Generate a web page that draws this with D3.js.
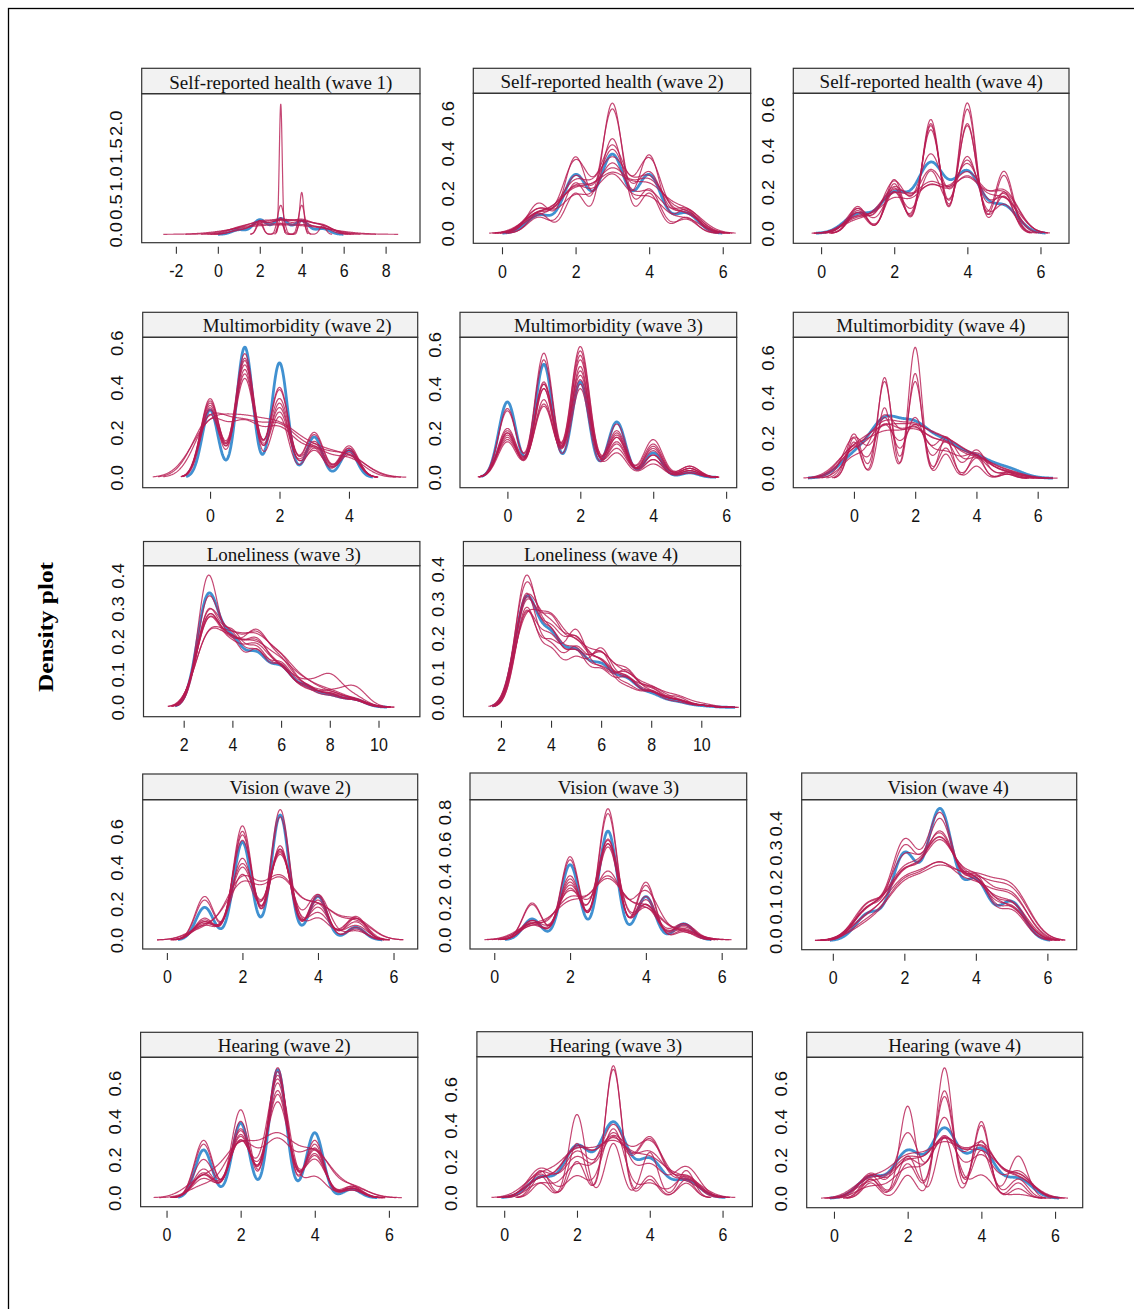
<!DOCTYPE html>
<html><head><meta charset="utf-8">
<script src="https://cdn.jsdelivr.net/npm/d3@7"></script>
<style>body{margin:0;background:#fff}svg{display:block}</style>
</head><body>
<script>
// ---------------- DATA ----------------
const titles = [
  "Self-reported health (wave 1)", "Self-reported health (wave 2)", "Self-reported health (wave 4)",
  "Multimorbidity (wave 2)", "Multimorbidity (wave 3)", "Multimorbidity (wave 4)",
  "Loneliness (wave 3)", "Loneliness (wave 4)",
  "Vision (wave 2)", "Vision (wave 3)", "Vision (wave 4)",
  "Hearing (wave 2)", "Hearing (wave 3)", "Hearing (wave 4)"
];
const yAxisTitle = "Density plot";
// first value of the support (consecutive integer scores)
const supportStart = [1, 1, 1, 0, 0, 0, 3, 3, 1, 1, 1, 1, 1, 1];
const xTickValues = [
  [-2, 0, 2, 4, 6, 8], [0, 2, 4, 6], [0, 2, 4, 6],
  [0, 2, 4], [0, 2, 4, 6], [0, 2, 4, 6],
  [2, 4, 6, 8, 10], [2, 4, 6, 8, 10],
  [0, 2, 4, 6], [0, 2, 4, 6], [0, 2, 4, 6],
  [0, 2, 4, 6], [0, 2, 4, 6], [0, 2, 4, 6]
];
const yTickValues = [
  [0, 0.5, 1, 1.5, 2], [0, 0.2, 0.4, 0.6], [0, 0.2, 0.4, 0.6],
  [0, 0.2, 0.4, 0.6], [0, 0.2, 0.4, 0.6], [0, 0.2, 0.4, 0.6],
  [0, 0.1, 0.2, 0.3, 0.4], [0, 0.1, 0.2, 0.3, 0.4],
  [0, 0.2, 0.4, 0.6], [0, 0.2, 0.4, 0.6, 0.8], [0, 0.1, 0.2, 0.3, 0.4],
  [0, 0.2, 0.4, 0.6], [0, 0.2, 0.4, 0.6], [0, 0.2, 0.4, 0.6]
];
// Each row: [kernel bandwidth, density peak at each support score ...]
// Row 0 = observed data (blue), other rows = imputed data sets (red)
const srhW1 = [
  [0.33, 0.08, 0.26, 0.28, 0.24, 0.10],
  [1.20, 0.05, 0.06, 0.06, 0.06, 0.05],
  [0.85, 0.07, 0.09, 0.09, 0.09, 0.07],
  [0.07, 0, 0, 2.33, 0, 0],
  [0.15, 0, 0.25, 0.52, 0.25, 0],
  [0.10, 0, 0, 0.30, 0.75, 0],
  [0.15, 0, 0.20, 0.20, 0.52, 0.15],
  [0.40, 0.08, 0.22, 0.25, 0.22, 0.12],
  [0.50, 0.10, 0.20, 0.22, 0.20, 0.14],
  [0.45, 0.06, 0.18, 0.22, 0.24, 0.16],
  [0.60, 0.10, 0.15, 0.18, 0.17, 0.12]
];
const srhW2 = [
  [0.33, 0.09, 0.29, 0.39, 0.29, 0.10],
  [0.28, 0.10, 0.20, 0.65, 0.20, 0.08],
  [0.30, 0.08, 0.25, 0.62, 0.22, 0.07],
  [0.30, 0.15, 0.38, 0.47, 0.39, 0.12],
  [0.35, 0.10, 0.36, 0.43, 0.37, 0.10],
  [0.35, 0.12, 0.28, 0.41, 0.30, 0.11],
  [0.40, 0.10, 0.25, 0.36, 0.27, 0.09],
  [0.42, 0.08, 0.22, 0.30, 0.25, 0.10],
  [0.45, 0.09, 0.20, 0.27, 0.22, 0.11],
  [0.38, 0.12, 0.18, 0.34, 0.20, 0.12],
  [0.40, 0.10, 0.22, 0.28, 0.17, 0.07]
];
const srhW4 = [
  [0.38, 0.09, 0.19, 0.33, 0.29, 0.13],
  [0.24, 0.12, 0.26, 0.55, 0.63, 0.20],
  [0.24, 0.13, 0.24, 0.53, 0.60, 0.28],
  [0.25, 0.10, 0.22, 0.52, 0.53, 0.30],
  [0.26, 0.11, 0.20, 0.50, 0.52, 0.18],
  [0.32, 0.10, 0.25, 0.38, 0.35, 0.19],
  [0.35, 0.08, 0.22, 0.30, 0.33, 0.17],
  [0.40, 0.07, 0.20, 0.23, 0.28, 0.19],
  [0.42, 0.06, 0.18, 0.21, 0.25, 0.16],
  [0.40, 0.08, 0.16, 0.22, 0.26, 0.20],
  [0.30, 0.12, 0.20, 0.30, 0.37, 0.14]
];
const mmW2 = [
  [0.23, 0.30, 0.58, 0.51, 0.18, 0.12],
  [0.27, 0.35, 0.55, 0.40, 0.20, 0.14],
  [0.27, 0.34, 0.53, 0.39, 0.19, 0.13],
  [0.28, 0.33, 0.50, 0.35, 0.16, 0.12],
  [0.27, 0.32, 0.48, 0.33, 0.14, 0.11],
  [0.28, 0.30, 0.46, 0.31, 0.12, 0.12],
  [0.28, 0.28, 0.44, 0.29, 0.15, 0.10],
  [0.26, 0.31, 0.52, 0.27, 0.13, 0.13],
  [0.50, 0.25, 0.20, 0.20, 0.10, 0.09],
  [0.45, 0.24, 0.22, 0.20, 0.11, 0.08],
  [0.55, 0.22, 0.20, 0.19, 0.10, 0.08]
];
const mmW3 = [
  [0.24, 0.34, 0.51, 0.43, 0.25, 0.11, 0.02],
  [0.25, 0.31, 0.56, 0.55, 0.20, 0.08, 0.02],
  [0.25, 0.30, 0.53, 0.50, 0.24, 0.10, 0.03],
  [0.26, 0.22, 0.43, 0.59, 0.19, 0.15, 0.04],
  [0.26, 0.21, 0.42, 0.57, 0.18, 0.17, 0.05],
  [0.26, 0.20, 0.40, 0.53, 0.16, 0.13, 0.04],
  [0.26, 0.19, 0.35, 0.48, 0.15, 0.12, 0.03],
  [0.27, 0.18, 0.33, 0.46, 0.13, 0.10, 0.05],
  [0.27, 0.17, 0.32, 0.44, 0.11, 0.06, 0.02],
  [0.26, 0.16, 0.42, 0.42, 0.21, 0.08, 0.03],
  [0.25, 0.20, 0.40, 0.40, 0.18, 0.14, 0.04]
];
const mmW4 = [
  [0.50, 0.10, 0.26, 0.23, 0.15, 0.09, 0.045],
  [0.22, 0.20, 0.35, 0.65, 0.12, 0.12, 0.03],
  [0.22, 0.18, 0.50, 0.52, 0.20, 0.06, 0.02],
  [0.24, 0.22, 0.48, 0.48, 0.15, 0.10, 0.02],
  [0.30, 0.16, 0.30, 0.30, 0.18, 0.14, 0.03],
  [0.45, 0.13, 0.24, 0.22, 0.16, 0.09, 0.03],
  [0.50, 0.12, 0.24, 0.22, 0.16, 0.09, 0.03],
  [0.55, 0.13, 0.20, 0.20, 0.15, 0.08, 0.03],
  [0.50, 0.14, 0.19, 0.20, 0.14, 0.09, 0.02],
  [0.35, 0.20, 0.26, 0.26, 0.20, 0.10, 0.02],
  [0.40, 0.10, 0.30, 0.24, 0.12, 0.12, 0.03]
];
const lonW3 = [
  [0.45, 0.33, 0.18, 0.145, 0.11, 0.055, 0.032, 0.022],
  [0.42, 0.39, 0.18, 0.16, 0.12, 0.06, 0.04, 0.02],
  [0.45, 0.32, 0.19, 0.15, 0.12, 0.06, 0.035, 0.02],
  [0.50, 0.27, 0.17, 0.19, 0.13, 0.05, 0.03, 0.02],
  [0.50, 0.26, 0.15, 0.20, 0.12, 0.05, 0.04, 0.02],
  [0.50, 0.25, 0.16, 0.17, 0.10, 0.06, 0.09, 0.03],
  [0.50, 0.25, 0.15, 0.16, 0.10, 0.04, 0.04, 0.06],
  [0.55, 0.20, 0.16, 0.17, 0.12, 0.06, 0.035, 0.02],
  [0.55, 0.20, 0.15, 0.15, 0.11, 0.06, 0.04, 0.02],
  [0.45, 0.28, 0.20, 0.16, 0.11, 0.05, 0.03, 0.02],
  [0.48, 0.26, 0.17, 0.18, 0.10, 0.05, 0.035, 0.025]
];
const lonW4 = [
  [0.45, 0.305, 0.185, 0.145, 0.11, 0.075, 0.035, 0.015, 0.004],
  [0.42, 0.37, 0.20, 0.15, 0.10, 0.08, 0.04, 0.015, 0.005],
  [0.45, 0.345, 0.19, 0.15, 0.10, 0.09, 0.05, 0.02, 0.005],
  [0.45, 0.29, 0.23, 0.17, 0.12, 0.08, 0.04, 0.02, 0.005],
  [0.42, 0.27, 0.17, 0.21, 0.10, 0.10, 0.05, 0.02, 0.005],
  [0.42, 0.28, 0.15, 0.13, 0.16, 0.08, 0.04, 0.03, 0.005],
  [0.50, 0.24, 0.22, 0.15, 0.13, 0.08, 0.05, 0.02, 0.005],
  [0.45, 0.30, 0.20, 0.18, 0.12, 0.05, 0.04, 0.02, 0.005],
  [0.45, 0.26, 0.18, 0.14, 0.14, 0.10, 0.04, 0.02, 0.005],
  [0.48, 0.30, 0.20, 0.17, 0.11, 0.07, 0.05, 0.03, 0.01],
  [0.42, 0.32, 0.16, 0.16, 0.15, 0.06, 0.045, 0.02, 0.005]
];
const visW2 = [
  [0.235, 0.18, 0.54, 0.69, 0.24, 0.07],
  [0.25, 0.24, 0.63, 0.72, 0.25, 0.06],
  [0.25, 0.22, 0.60, 0.68, 0.24, 0.07],
  [0.26, 0.12, 0.58, 0.52, 0.22, 0.12],
  [0.27, 0.11, 0.55, 0.50, 0.20, 0.13],
  [0.28, 0.10, 0.45, 0.49, 0.18, 0.10],
  [0.30, 0.09, 0.42, 0.48, 0.15, 0.08],
  [0.30, 0.08, 0.40, 0.47, 0.25, 0.05],
  [0.42, 0.06, 0.33, 0.33, 0.18, 0.10],
  [0.42, 0.07, 0.30, 0.32, 0.18, 0.11],
  [0.30, 0.10, 0.36, 0.50, 0.12, 0.12]
];
const visW3 = [
  [0.24, 0.13, 0.47, 0.68, 0.27, 0.10],
  [0.25, 0.23, 0.50, 0.82, 0.34, 0.06],
  [0.25, 0.22, 0.52, 0.79, 0.36, 0.05],
  [0.27, 0.12, 0.40, 0.63, 0.25, 0.10],
  [0.27, 0.11, 0.38, 0.60, 0.27, 0.09],
  [0.28, 0.10, 0.36, 0.58, 0.22, 0.07],
  [0.30, 0.09, 0.34, 0.60, 0.20, 0.08],
  [0.35, 0.10, 0.30, 0.42, 0.30, 0.06],
  [0.40, 0.08, 0.25, 0.38, 0.20, 0.05],
  [0.42, 0.09, 0.22, 0.36, 0.18, 0.04],
  [0.30, 0.12, 0.32, 0.62, 0.22, 0.10]
];
const visW4 = [
  [0.36, 0.09, 0.29, 0.44, 0.20, 0.13],
  [0.38, 0.12, 0.33, 0.42, 0.20, 0.10],
  [0.38, 0.11, 0.31, 0.40, 0.21, 0.11],
  [0.42, 0.10, 0.27, 0.34, 0.19, 0.12],
  [0.45, 0.10, 0.22, 0.32, 0.18, 0.10],
  [0.45, 0.08, 0.21, 0.31, 0.19, 0.15],
  [0.50, 0.07, 0.18, 0.22, 0.17, 0.16],
  [0.50, 0.05, 0.17, 0.21, 0.18, 0.17],
  [0.48, 0.06, 0.18, 0.23, 0.16, 0.14],
  [0.42, 0.12, 0.22, 0.35, 0.18, 0.11],
  [0.45, 0.10, 0.21, 0.32, 0.17, 0.12]
];
const hearW2 = [
  [0.23, 0.25, 0.39, 0.67, 0.34, 0.045],
  [0.25, 0.30, 0.40, 0.68, 0.30, 0.05],
  [0.25, 0.28, 0.46, 0.66, 0.28, 0.06],
  [0.27, 0.20, 0.36, 0.64, 0.26, 0.05],
  [0.27, 0.15, 0.35, 0.60, 0.25, 0.04],
  [0.28, 0.13, 0.33, 0.56, 0.23, 0.06],
  [0.28, 0.12, 0.32, 0.54, 0.22, 0.05],
  [0.30, 0.10, 0.30, 0.50, 0.20, 0.04],
  [0.45, 0.10, 0.26, 0.30, 0.22, 0.05],
  [0.40, 0.06, 0.28, 0.29, 0.24, 0.06],
  [0.30, 0.12, 0.30, 0.62, 0.11, 0.05]
];
const hearW3 = [
  [0.36, 0.11, 0.28, 0.41, 0.21, 0.095],
  [0.22, 0.12, 0.30, 0.73, 0.10, 0.10],
  [0.23, 0.15, 0.20, 0.71, 0.12, 0.08],
  [0.22, 0.08, 0.46, 0.30, 0.25, 0.15],
  [0.35, 0.14, 0.25, 0.35, 0.33, 0.12],
  [0.35, 0.16, 0.22, 0.33, 0.32, 0.10],
  [0.40, 0.10, 0.26, 0.32, 0.30, 0.08],
  [0.35, 0.08, 0.18, 0.40, 0.18, 0.17],
  [0.45, 0.12, 0.24, 0.28, 0.20, 0.10],
  [0.30, 0.13, 0.12, 0.38, 0.08, 0.12],
  [0.40, 0.10, 0.27, 0.31, 0.24, 0.10]
];
const hearW4 = [
  [0.37, 0.11, 0.24, 0.355, 0.25, 0.10],
  [0.22, 0.08, 0.12, 0.68, 0.38, 0.08],
  [0.22, 0.10, 0.48, 0.32, 0.40, 0.05],
  [0.25, 0.12, 0.22, 0.56, 0.25, 0.22],
  [0.25, 0.10, 0.18, 0.53, 0.30, 0.10],
  [0.30, 0.13, 0.34, 0.42, 0.12, 0.02],
  [0.40, 0.10, 0.20, 0.30, 0.26, 0.12],
  [0.42, 0.08, 0.18, 0.29, 0.25, 0.10],
  [0.38, 0.06, 0.15, 0.30, 0.28, 0.12],
  [0.35, 0.12, 0.20, 0.32, 0.22, 0.14],
  [0.45, 0.10, 0.20, 0.26, 0.22, 0.10]
];
const curveSets = [srhW1, srhW2, srhW4, mmW2, mmW3, mmW4, lonW3, lonW4,
                   visW2, visW3, visW4, hearW2, hearW3, hearW4];

// ---------------- LAYOUT (positions / scale limits) ----------------
const layout = [
  {l:141.7, r:420.0, st:68.3,  bt:93.7,  bb:242.7,  xd:[-3.63, 9.64], yd:[-0.15, 2.52],  dx:0},
  {l:473.3, r:750.7, st:68.3,  bt:93.3,  bb:243.3,  xd:[-0.78, 6.76], yd:[-0.05, 0.70],  dx:0},
  {l:793.3, r:1069,  st:68.3,  bt:93.3,  bb:243.3,  xd:[-0.76, 6.78], yd:[-0.048, 0.677],dx:0},
  {l:142.7, r:417.7, st:312.3, bt:337.3, bb:487.7,  xd:[-1.94, 5.98], yd:[-0.046, 0.624],dx:17},
  {l:460.0, r:736.7, st:312.3, bt:337.3, bb:487.7,  xd:[-1.30, 6.29], yd:[-0.047, 0.632],dx:10},
  {l:793.3, r:1068.3,st:312.3, bt:337.3, bb:487.7,  xd:[-1.98, 7.00], yd:[-0.047, 0.70], dx:0},
  {l:143.5, r:419.9, st:541.5, bt:565.7, bb:716.7,  xd:[0.35, 11.70], yd:[-0.029, 0.43], dx:2},
  {l:463.4, r:740.6, st:541.5, bt:565.7, bb:716.7,  xd:[0.50, 11.57], yd:[-0.027, 0.41], dx:-1},
  {l:142.7, r:417.7, st:774.0, bt:799.7, bb:949.0,  xd:[-0.64, 6.64], yd:[-0.05, 0.775], dx:10},
  {l:470.0, r:746.7, st:773.0, bt:799.7, bb:949.0,  xd:[-0.64, 6.66], yd:[-0.058, 0.877],dx:10},
  {l:801.7, r:1076.7,st:773.0, bt:799.7, bb:949.7,  xd:[-0.87, 6.82], yd:[-0.031, 0.48], dx:9},
  {l:140.6, r:417.8, st:1032.3,bt:1057.3,bb:1206.7, xd:[-0.70, 6.78], yd:[-0.047, 0.735],dx:5},
  {l:476.9, r:752.4, st:1031.7,bt:1056.7,bb:1206.7, xd:[-0.75, 6.82], yd:[-0.05, 0.78],  dx:1},
  {l:806.7, r:1082.7,st:1032.3,bt:1057.3,bb:1207.7, xd:[-0.74, 6.75], yd:[-0.049, 0.735],dx:10}
];

const BLUE = "#006CC2", RED = "#B61A51";
const SANS = "'Liberation Sans', Arial, sans-serif";
const SERIF = "'Liberation Serif', 'Times New Roman', serif";

// kernel-smoothed curve through the read peak values
function curvePoints(row, start) {
  const h = row[0], amps = row.slice(1);
  const nz = amps.map((a, i) => a > 0 ? i : -1).filter(i => i >= 0);
  const lo = start + nz[0] - 3 * h, hi = start + nz[nz.length - 1] + 3 * h;
  const n = 500, pts = [];
  for (let j = 0; j <= n; j++) {
    const x = lo + (hi - lo) * j / n;
    let y = 0;
    amps.forEach((a, i) => { const d = x - (start + i); y += a * Math.exp(-d * d / (2 * h * h)); });
    pts.push([x, y]);
  }
  return pts;
}

const svg = d3.select("body").append("svg").attr("width", 1134).attr("height", 1309);
svg.append("rect").attr("width", 1134).attr("height", 1309).attr("fill", "#fff");
svg.append("rect").attr("x", 8.5).attr("y", 8.5).attr("width", 1300).attr("height", 1400)
  .attr("fill", "none").attr("stroke", "#000").attr("stroke-width", 1.3);

svg.append("text")
  .attr("transform", "translate(46,627) rotate(-90) scale(1.15,1)")
  .attr("text-anchor", "middle").attr("dominant-baseline", "central")
  .attr("font-family", SERIF).attr("font-weight", "bold").attr("font-size", 22)
  .attr("fill", "#000").text(yAxisTitle);

const defs = svg.append("defs");

layout.forEach((L, p) => {
  const x = d3.scaleLinear().domain(L.xd).range([L.l, L.r]);
  const y = d3.scaleLinear().domain(L.yd).range([L.bb, L.bt]);
  const g = svg.append("g");

  // strip
  g.append("rect").attr("x", L.l).attr("y", L.st).attr("width", L.r - L.l).attr("height", L.bt - L.st)
    .attr("fill", "#f2f2f2").attr("stroke", "#333").attr("stroke-width", 1.2);
  g.append("text").attr("x", (L.l + L.r) / 2 + L.dx).attr("y", (L.st + L.bt) / 2 + 1)
    .attr("text-anchor", "middle").attr("dominant-baseline", "central")
    .attr("font-family", SERIF).attr("font-size", 19).attr("fill", "#111").text(titles[p]);

  // clip
  defs.append("clipPath").attr("id", "clip" + p).append("rect")
    .attr("x", L.l).attr("y", L.bt).attr("width", L.r - L.l).attr("height", L.bb - L.bt);

  const line = d3.line().x(d => x(d[0])).y(d => y(d[1]));
  const cg = g.append("g").attr("clip-path", `url(#clip${p})`);
  const rows = curveSets[p];
  // observed first, imputed on top
  cg.append("path").attr("d", line(curvePoints(rows[0], supportStart[p])))
    .attr("fill", "none").attr("stroke", BLUE).attr("stroke-opacity", 0.75).attr("stroke-width", 2.8);
  rows.slice(1).forEach(r => {
    cg.append("path").attr("d", line(curvePoints(r, supportStart[p])))
      .attr("fill", "none").attr("stroke", RED).attr("stroke-opacity", 0.8).attr("stroke-width", 1.2);
  });

  // box
  g.append("rect").attr("x", L.l).attr("y", L.bt).attr("width", L.r - L.l).attr("height", L.bb - L.bt)
    .attr("fill", "none").attr("stroke", "#333").attr("stroke-width", 1.2);

  // x axis
  const xa = g.append("g").attr("transform", `translate(0,${L.bb + 4})`)
    .call(d3.axisBottom(x).tickValues(xTickValues[p]).tickSize(7).tickFormat(d => String(d)));
  xa.select(".domain").remove();
  xa.selectAll("line").attr("stroke", "#333").attr("stroke-width", 1.1);
  xa.selectAll("text").attr("y", 0).attr("dy", null)
    .attr("dominant-baseline", "central")
    .attr("transform", "translate(0,24) scale(1,1.15)")
    .attr("font-family", SANS).attr("font-size", 16).attr("fill", "#111");

  // y axis (labels only, rotated)
  const ya = g.append("g").attr("transform", `translate(${L.l},0)`)
    .call(d3.axisLeft(y).tickValues(yTickValues[p]).tickSize(0).tickFormat(d3.format(".1f")));
  ya.select(".domain").remove();
  ya.selectAll("line").remove();
  ya.selectAll("text").attr("x", 0).attr("dy", null)
    .attr("text-anchor", "middle").attr("dominant-baseline", "central")
    .attr("transform", "translate(-25,0) rotate(-90) scale(1.15,1)")
    .attr("font-family", SANS).attr("font-size", 16).attr("fill", "#111");
});
</script>
</body></html>
